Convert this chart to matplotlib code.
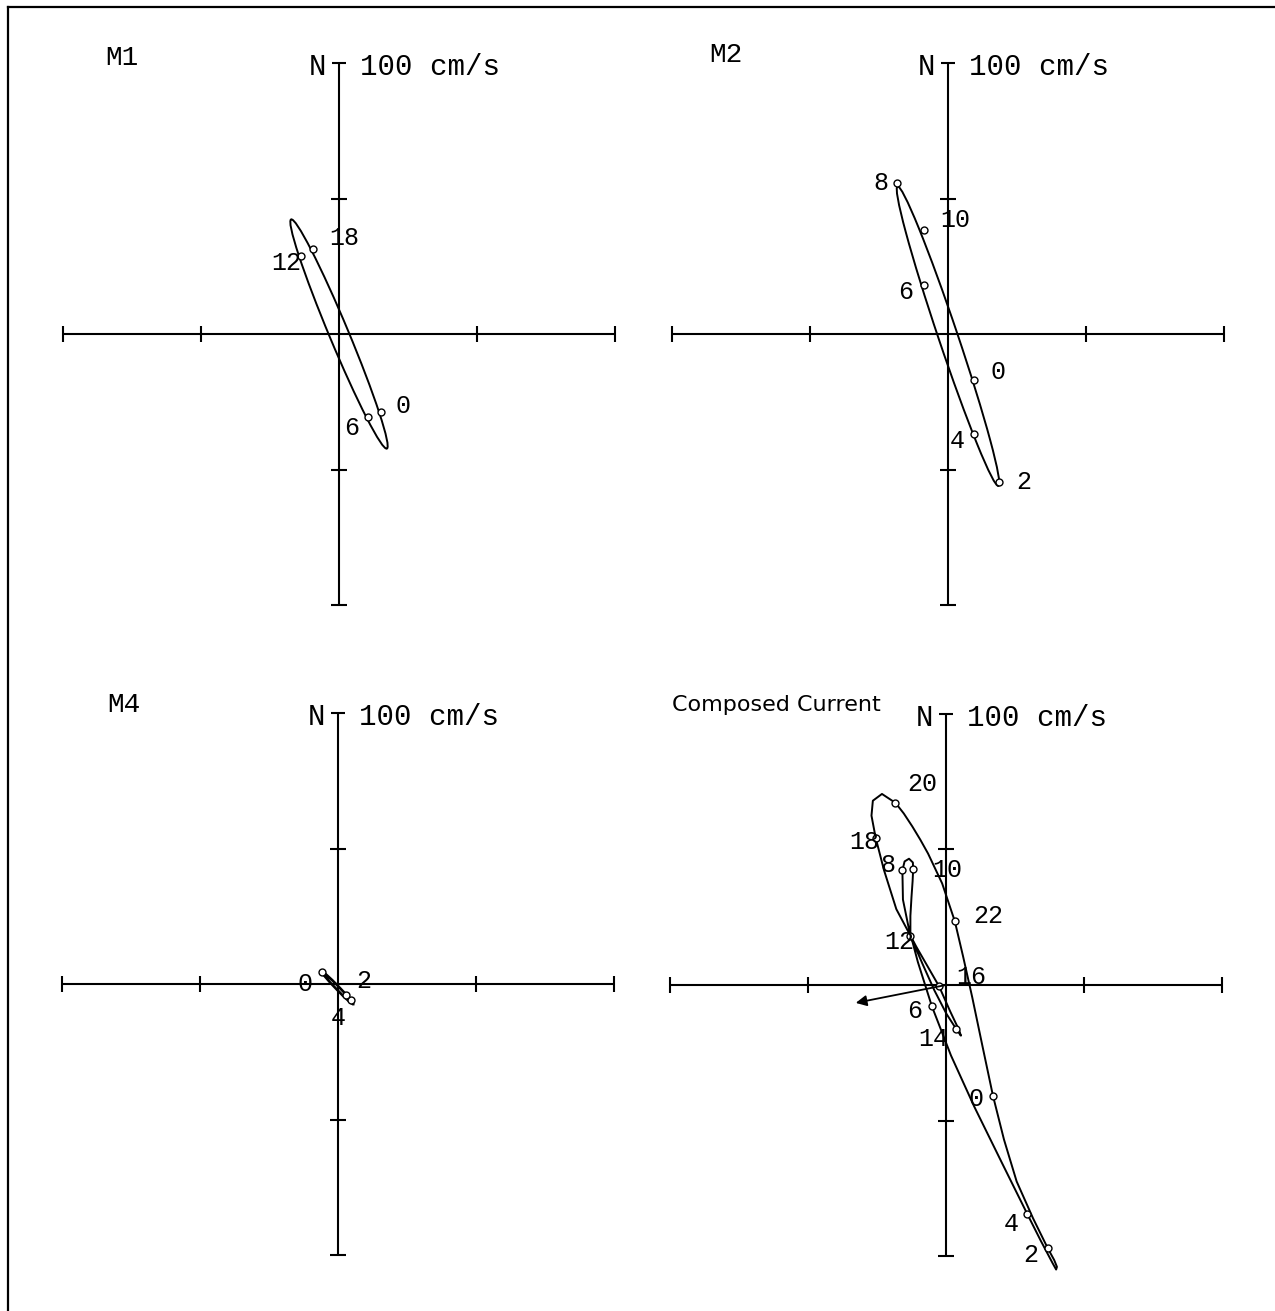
import numpy as np
import matplotlib.pyplot as plt
from matplotlib.patches import Ellipse
from matplotlib.lines import Line2D

W, H = 1275, 1311
SX, SY = 2.76, 2.71          # pixels per cm/s
mono = 'Liberation Mono'

# ---- M1 (cm/s) ----
m1_ell = (0.0, 0.0, 45.7, 3.5, 112.3)   # cx, cy, semi-major, semi-minor, angle
m1_hours = ['0', '6', '12', '18']
m1_mx = [15.1, 10.4, -13.8, -9.4]
m1_my = [-28.7, -30.8, 28.8, 31.2]
m1_lx = [23.3, 4.4, -19.0, 1.8]
m1_ly = [-26.7, -34.7, 26.2, 35.3]

# ---- M2 ----
m2_ell = (0.0, -0.8, 58.2, 3.5, 108.3)
m2_hours = ['0', '2', '4', '6', '8', '10']
m2_mx = [9.3, 18.3, 9.6, -8.8, -18.3, -8.8]
m2_my = [-16.9, -54.7, -37.0, 18.2, 55.7, 38.3]
m2_lx = [18.0, 27.5, 3.4, -15.2, -24.5, 2.7]
m2_ly = [-13.9, -54.7, -39.6, 15.6, 55.7, 42.1]

# ---- M4 ----
m4_ell = (-0.2, -1.4, 8.3, 0.6, 133.5)
m4_hours = ['0', '2', '4']
m4_mx = [-5.8, 4.8, 3.0]
m4_my = [4.5, -6.0, -4.2]
m4_lx = [-12.1, 9.4, 0.0]
m4_ly = [0.0, 1.2, -12.4]

# ---- composed current, traced path (cm/s) ----
comp_x = [17.0, 21.0, 25.6, 31.5, 36.8, 39.2, 40.2, 39.9, 38.6, 34.3, 29.5,
          20.2, 10.2, 1.8, -5.1, -10.2, -13.6, -15.6, -15.8, -15.0, -13.4,
          -12.0, -11.9, -12.1, -12.5, -12.9, -12.9, -8.6, -4.2, 0.2, 3.8,
          5.4, 4.8, 1.5, -2.5, -10.8, -18.0, -22.5, -25.5, -27.0, -26.5,
          -23.2, -18.3, -15.3, -12.2, -9.3, -6.5, -1.4, 3.2, 6.2, 9.5, 13.2, 17.0]
comp_y = [-40.8, -57.0, -72.5, -86.0, -97.0, -101.5, -104.0, -105.0, -102.6,
          -94.3, -84.6, -65.5, -44.8, -26.0, -7.9, 8.5, 21.5, 31.5, 42.3,
          45.6, 46.6, 45.2, 42.7, 38.3, 32.5, 25.5, 18.2, 8.0, -2.0, -10.7,
          -16.4, -18.7, -16.8, -9.7, -0.5, 14.2, 28.0, 42.5, 54.4, 62.5,
          68.0, 70.5, 67.2, 63.3, 58.5, 53.6, 48.5, 37.5, 23.5, 10.5, -4.5, -22.5, -40.8]
comp_hours = ['0', '2', '4', '6', '8', '10', '12', '14', '16', '18', '20', '22']
comp_mx = [17.0, 36.8, 29.5, -5.1, -15.8, -11.9, -12.9, 3.8, -2.5, -25.5, -18.3, 3.2]
comp_my = [-40.8, -97.0, -84.6, -7.9, 42.3, 42.7, 18.2, -16.4, -0.5, 54.4, 67.2, 23.5]
comp_lx = [11.0, 30.8, 23.6, -11.2, -21.2, 0.5, -16.8, -4.6, 9.2, -29.5, -8.7, 15.2]
comp_ly = [-42.0, -99.7, -88.2, -9.7, 44.2, 42.3, 15.8, -20.1, 3.0, 52.6, 74.2, 25.5]
mean_u, mean_v = -32.7, -6.6

fig = plt.figure(figsize=(W / 100, H / 100), dpi=100)


def make_ax(box, center):
    x0, y0, x1, y1 = box
    cx, cy = center
    ax = fig.add_axes([x0 / W, 1 - y1 / H, (x1 - x0) / W, (y1 - y0) / H])
    ax.set_xlim((x0 - cx) / SX, (x1 - cx) / SX)
    ax.set_ylim((cy - y1) / SY, (cy - y0) / SY)
    ax.axis('off')
    return ax


def draw_cross(ax):
    kw = dict(color='black', lw=1.5, solid_capstyle='butt')
    ax.plot([-100, 100], [0, 0], **kw)
    ax.plot([0, 0], [-100, 100], **kw)
    for v in [-100, -50, 50, 100]:
        ax.plot([v, v], [-2.8, 2.8], **kw)
    for v in [-100, -50, 50]:
        ax.plot([-3.0, 3.0], [v, v], **kw)
    ax.plot([-2.4, 2.4], [100, 100], **kw)
    ax.text(-4.5, 98.4, 'N', ha='right', va='center', fontsize=21, family=mono)
    ax.text(7.5, 98.4, '100 cm/s', ha='left', va='center', fontsize=21, family=mono)


def draw_marks(ax, hours, mx, my, lx, ly):
    ax.plot(mx, my, 'o', ls='none', ms=5, mfc='white', mec='black', mew=1.0, zorder=3)
    for h, x, y in zip(hours, lx, ly):
        ax.text(x, y, h, ha='center', va='center', fontsize=18, family=mono, zorder=4)


def draw_ellipse(ax, ell, lw=1.4):
    cx, cy, a, b, ang = ell
    ax.add_patch(Ellipse((cx, cy), 2 * a, 2 * b, angle=ang, fill=False,
                         edgecolor='black', lw=lw))


# M1
ax1 = make_ax((0, 0, 640, 655), (339, 334))
draw_cross(ax1)
draw_ellipse(ax1, m1_ell)
draw_marks(ax1, m1_hours, m1_mx, m1_my, m1_lx, m1_ly)
ax1.text(-78.5, 101.8, 'M1', ha='center', va='center', fontsize=20, family=mono)

# M2
ax2 = make_ax((640, 0, 1275, 655), (948, 334))
draw_cross(ax2)
draw_ellipse(ax2, m2_ell)
draw_marks(ax2, m2_hours, m2_mx, m2_my, m2_lx, m2_ly)
ax2.text(-80.4, 103.0, 'M2', ha='center', va='center', fontsize=20, family=mono)

# M4
ax3 = make_ax((0, 655, 640, 1311), (338, 984))
draw_cross(ax3)
draw_ellipse(ax3, m4_ell, lw=1.9)
draw_marks(ax3, m4_hours, m4_mx, m4_my, m4_lx, m4_ly)
ax3.text(-77.5, 103.0, 'M4', ha='center', va='center', fontsize=20, family=mono)

# composed current
ax4 = make_ax((640, 655, 1275, 1311), (946, 985))
draw_cross(ax4)
ax4.plot(comp_x, comp_y, color='black', lw=1.4, solid_joinstyle='round')
draw_marks(ax4, comp_hours, comp_mx, comp_my, comp_lx, comp_ly)
ax4.annotate('', xy=(mean_u, mean_v), xytext=(0, 0),
             arrowprops=dict(arrowstyle='-|>', color='black', lw=1.3,
                             mutation_scale=16, shrinkA=0, shrinkB=0))
ax4.text(-99.3, 103.5, 'Composed Current', ha='left', va='center', fontsize=16,
         family='DejaVu Sans')

# page frame (left and top edges)
fig.add_artist(Line2D([8 / W, 8 / W], [0, 1 - 7 / H], transform=fig.transFigure,
                      color='black', lw=1.6))
fig.add_artist(Line2D([8 / W, 1], [1 - 7 / H, 1 - 7 / H], transform=fig.transFigure,
                      color='black', lw=1.6))

fig.savefig('out.png', dpi=100, facecolor='white')
